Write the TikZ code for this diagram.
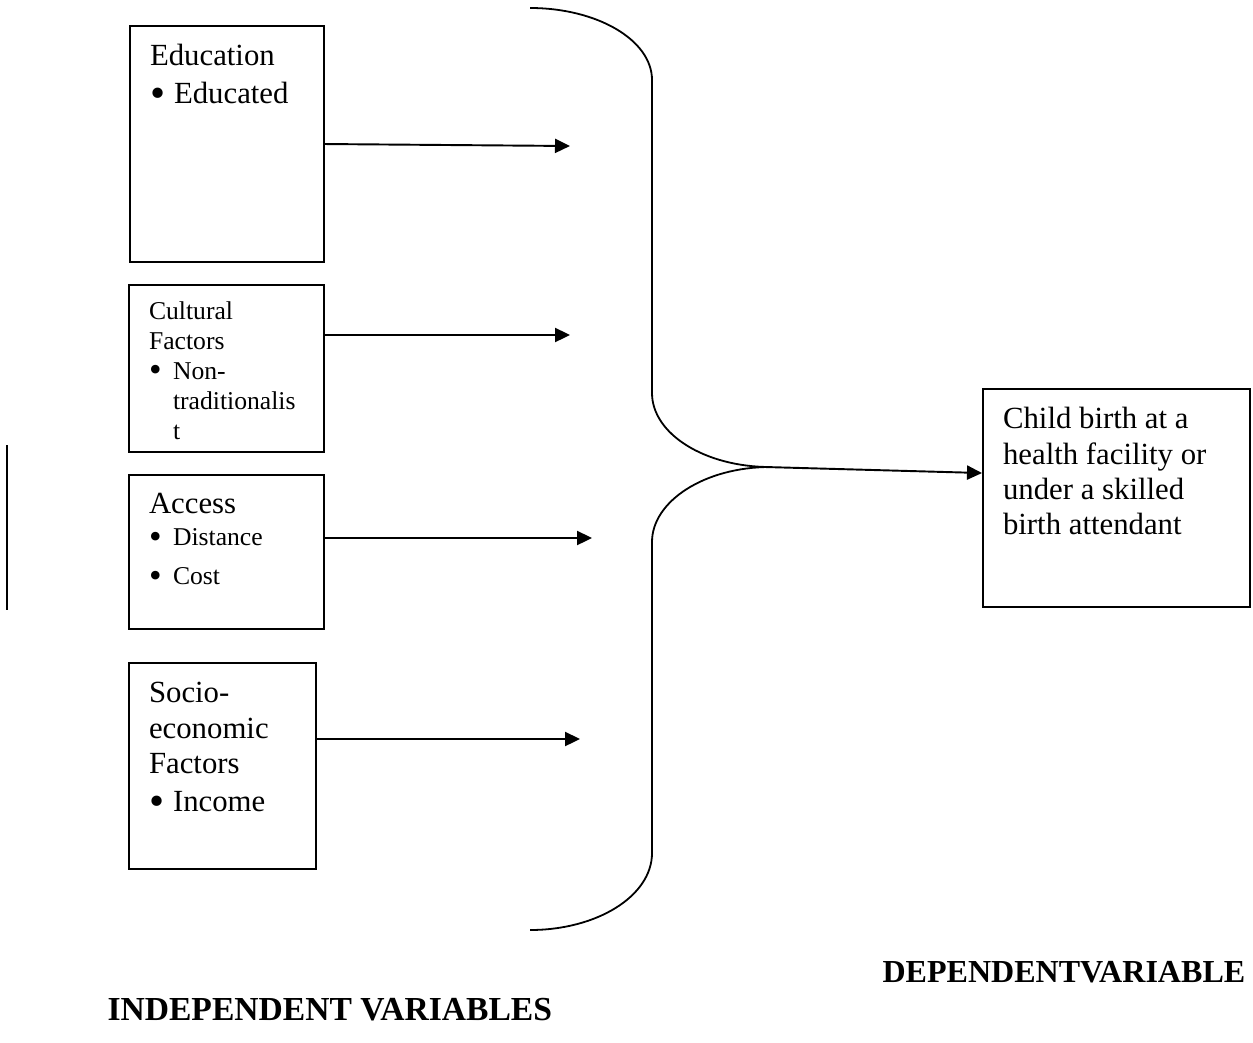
\documentclass[tikz,border=0pt]{standalone}
\usepackage{fontspec}
\setmainfont{Liberation Serif}
\usetikzlibrary{arrows.meta,positioning}
\newlength{\pxl}
\setlength{\pxl}{0.39pt}
\tikzstyle{factor} = [draw, line width=0.8pt, anchor=north west, inner xsep=20\pxl, inner ysep=15\pxl, font=\fontsize{12}{13.8}\selectfont]
\tikzstyle{small} = [font=\fontsize{10}{11.7}\selectfont]
\tikzstyle{arrow} = [draw, line width=0.75pt, -{Triangle[length=5.85pt,width=5.5pt]}]
\tikzstyle{brace} = [draw, line width=0.7pt]
\tikzstyle{heading} = [anchor=base west, inner sep=0pt, font=\fontsize{12.5}{15}\selectfont\bfseries]
\newcommand{\topbox}[3]{\parbox[t][#2\pxl][t]{#1\pxl}{\raggedright\strut#3}}
\newcommand{\bul}[1]{\makebox[24\pxl][l]{\raisebox{-0.25ex}{\scalebox{1.4}{\textbullet}}}#1}
\newcommand{\ind}{\hspace*{24\pxl}}
\begin{document}
\begin{tikzpicture}[x=0.39pt, y=-0.39pt]
\useasboundingbox (0,0) rectangle (1253,1042);
% independent variables
\node[factor] (edu) at (129,25) {\topbox{154}{206}{Education\\[1pt] \bul{Educated}}};
\node[factor, small, inner ysep=13\pxl] (cult) at (128,284) {\topbox{155}{141}{Cultural\\Factors\\\bul{Non-}\\\ind traditionalis\\\ind t}};
\node[factor, inner ysep=14\pxl] (acc) at (128,474) {\topbox{155}{126}{Access\\[0.8pt]{\fontsize{10}{11.7}\selectfont\bul{Distance}\\[1.4pt]\bul{Cost}}}};
\node[factor] (soc) at (128,662) {\topbox{147}{176}{Socio-\\economic\\Factors\\[1pt]\bul{Income}}};
% dependent variable
\node[factor] (child) at (982,388) {\topbox{227}{188}{Child birth at a\\health facility or\\under a skilled\\birth attendant}};

\coordinate (eduend) at (570,146);
\coordinate (cultend) at (570,335);
\coordinate (accend) at (592,538);
\coordinate (socend) at (580,739);
\coordinate (joint) at (770,467);

\path [arrow] (edu.east) -- (eduend);
\path [arrow] (cult.east |- cultend) -- (cultend);
\path [arrow] (acc.east |- accend) -- (accend);
\path [arrow] (soc.east |- socend) -- (socend);

% the brace
\draw[brace] (530,8) .. controls (597,8) and (652,40) .. (652,80) -- (652,393)
  .. controls (652,434) and (705,467) .. (joint)
  .. controls (705,467) and (652,501) .. (652,542) -- (652,853)
  .. controls (652,896) and (597,930) .. (530,930);
\path [arrow] ([xshift=-5\pxl]joint) -- ([yshift=25\pxl]child.west);

\draw[line width=0.8pt] (7,445) -- (7,610);

\node[heading, font=\fontsize{13.1}{15}\selectfont\bfseries] (indep) at (107,1020) {INDEPENDENT VARIABLES};
\node[heading] (dep) at (882,982) {DEPENDENTVARIABLE};
\end{tikzpicture}
\end{document}
